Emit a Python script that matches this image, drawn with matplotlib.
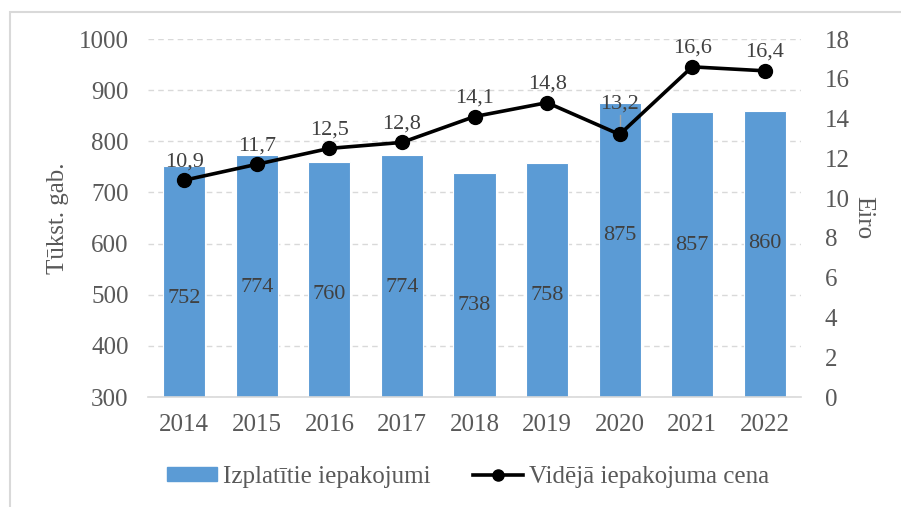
import numpy as np
import matplotlib.pyplot as plt
from matplotlib.patches import Rectangle

plt.rcParams['font.family'] = ['Liberation Serif', 'DejaVu Serif']

years = ['2014', '2015', '2016', '2017', '2018', '2019', '2020', '2021', '2022']
packs = [752, 774, 760, 774, 738, 758, 875, 857, 860]
price = [10.9, 11.7, 12.5, 12.8, 14.1, 14.8, 13.2, 16.6, 16.4]
price_txt = ['10,9', '11,7', '12,5', '12,8', '14,1', '14,8', '13,2', '16,6', '16,4']

blue = '#5B9BD5'
tick_col = '#595959'
lab_col = '#404040'

fig = plt.figure(figsize=(9.01, 5.07), dpi=100)
fig.patches.append(Rectangle((10/901, -0.1), 1.2, 1 - 12/507 + 0.1, transform=fig.transFigure,
                             fill=False, edgecolor='#D9D9D9', linewidth=1.5))
ax = fig.add_axes([148/901, 1 - 397/507, (801 - 148)/901, (397 - 39)/507])
x = np.arange(len(years))

ax.set_ylim(300, 1000)
ax.set_xlim(-0.5, len(years) - 0.5)
ax.set_yticks(np.arange(300, 1001, 100))
ax.yaxis.grid(True, color='#D9D9D9', linestyle=(0, (4, 3)), linewidth=1)
ax.set_axisbelow(True)
bars = ax.bar(x, packs, width=0.58, color=blue, edgecolor='white', linewidth=0.8, zorder=2)
for xi, v in zip(x, packs):
    ax.text(xi, v - 260, str(v), ha='center', va='center', fontsize=16, color=lab_col, zorder=3)

for s in ['top', 'left', 'right']:
    ax.spines[s].set_visible(False)
ax.spines['bottom'].set_color('#D9D9D9')
ax.spines['bottom'].set_linewidth(1.2)
ax.set_xticks(x)
ax.set_xticklabels(years)
ax.tick_params(axis='both', length=0, labelsize=18, colors=tick_col)
ax.tick_params(axis='x', pad=12)
ax.tick_params(axis='y', pad=14)
ax.set_ylabel('Tūkst. gab.', fontsize=18, color=tick_col, labelpad=7)

ax2 = ax.twinx()
ax2.set_ylim(0, 18)
ax2.set_yticks(np.arange(0, 19, 2))
for s in ['top', 'left', 'right', 'bottom']:
    ax2.spines[s].set_visible(False)
ax2.tick_params(axis='y', length=0, labelsize=18, colors=tick_col, pad=17)
ax2.plot(x, price, color='black', linewidth=2.6, marker='o', markersize=10, zorder=4)
for xi, v, t in zip(x, price, price_txt):
    if t == '13,2':
        ax2.plot([xi, xi], [v + 0.3, v + 1.0], color='#A6A6A6', linewidth=1)
        ax2.text(xi, v + 1.05, t, ha='center', va='bottom', fontsize=16, color=lab_col)
    else:
        ax2.text(xi, v + 0.45, t, ha='center', va='bottom', fontsize=16, color=lab_col)
ax2.set_ylabel('Eiro', fontsize=18, color=tick_col, rotation=270, labelpad=18)

h1 = Rectangle((0, 0), 1, 1, color=blue)
h2, = ax2.plot([], [], color='black', linewidth=2.6, marker='o', markersize=8)
fig.legend([h1, h2], ['Izplatītie iepakojumi', 'Vidējā iepakojuma cena'],
           loc='center', bbox_to_anchor=(468/901, 1 - 477/507), ncol=2, frameon=False,
           fontsize=18, labelcolor=tick_col, handlelength=2.0, handleheight=0.5,
           columnspacing=1.7, handletextpad=0.25)

fig.savefig('out.png', dpi=100)
